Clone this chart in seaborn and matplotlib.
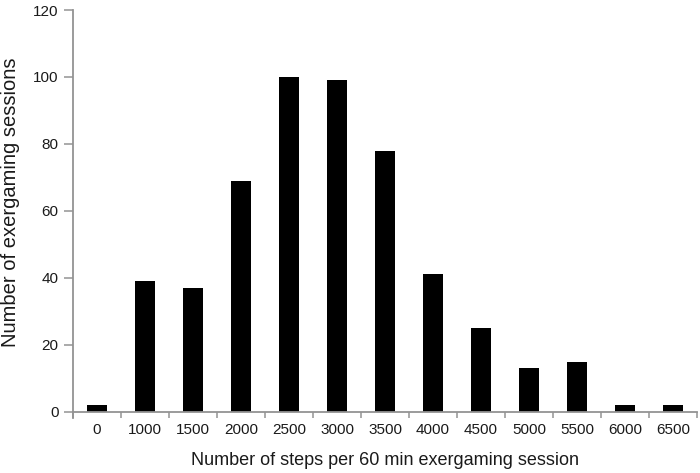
# Histograma de pasos por sesion de exergaming

import matplotlib
matplotlib.use("Agg")
import matplotlib.pyplot as plt
import seaborn as sns

# Datos

pasos = ["0", "1000", "1500", "2000", "2500", "3000", "3500",
         "4000", "4500", "5000", "5500", "6000", "6500"]
sesiones = [2, 39, 37, 69, 100, 99, 78, 41, 25, 13, 15, 2, 2]
marcas_y = [0, 20, 40, 60, 80, 100, 120]

# Estilo

sns.set_style("white")
plt.rcParams["font.family"] = ["Liberation Sans", "DejaVu Sans"]
gris = "#939393"

fig = plt.figure(figsize=(7, 4.73), dpi=100)
ax = fig.add_axes([0.1043, 0.1154, 0.8914, 0.8634])

sns.barplot(x=pasos, y=sesiones, color="black", saturation=1, width=0.42,
            edgecolor="none", ax=ax)

ax.set_xlim(-0.5, len(pasos) - 0.5)
ax.set_ylim(-2, 120)

# Ejes
for lado in ["top", "right"]:
    ax.spines[lado].set_visible(False)
ax.spines["bottom"].set_position(("data", 0))
for lado in ["left", "bottom"]:
    ax.spines[lado].set_color(gris)
    ax.spines[lado].set_linewidth(1.3)

ax.set_yticks(marcas_y)
ax.tick_params(axis="y", length=6.5, width=1.1, color=gris, pad=4,
               labelsize=11, labelcolor="#1a1a1a", left=True)

# Marcas del eje x entre las barras, etiquetas centradas
ax.set_xticks(range(len(pasos)))
ax.set_xticklabels(pasos)
ax.set_xticks([i - 0.5 for i in range(len(pasos) + 1)], minor=True)
ax.tick_params(axis="x", which="major", length=0, pad=8,
               labelsize=11, labelcolor="#1a1a1a")
ax.tick_params(axis="x", which="minor", length=4, width=1.1, color=gris,
               bottom=True)

ax.set_xlabel("Number of steps per 60 min exergaming session",
              fontsize=13, color="#1a1a1a", labelpad=11)
ax.set_ylabel("Number of exergaming sessions", fontsize=14.5,
              color="#1a1a1a", labelpad=12)
ax.yaxis.set_label_coords(-0.085, 0.53)

plt.savefig("out.png", dpi=100)
